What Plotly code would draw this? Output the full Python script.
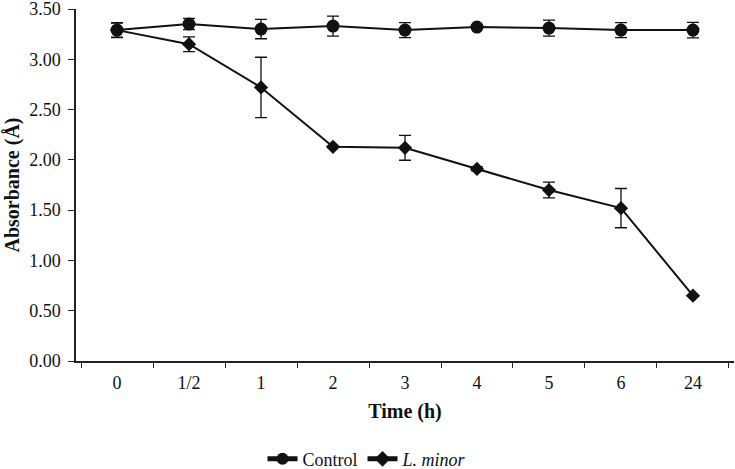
import plotly.graph_objects as go

times = ["0", "1/2", "1", "2", "3", "4", "5", "6", "24"]
control = [3.29, 3.35, 3.30, 3.33, 3.29, 3.32, 3.31, 3.29, 3.29]
control_err = [0.074, 0.056, 0.096, 0.10, 0.074, 0.02, 0.08, 0.074, 0.077]
lminor = [3.29, 3.15, 2.72, 2.13, 2.12, 1.91, 1.70, 1.52, 0.65]
lminor_err = [0.07, 0.073, 0.30, 0.0, 0.124, 0.02, 0.078, 0.195, 0.0]

font = "Liberation Serif"
ink = "#111111"
fig = go.Figure()
fig.add_trace(go.Scatter(
    x=times, y=control, name="Control", mode="lines+markers",
    line=dict(color=ink, width=2),
    marker=dict(symbol="circle", size=13, color=ink),
    error_y=dict(type="data", array=control_err, color=ink, thickness=1.3, width=6),
))
fig.add_trace(go.Scatter(
    x=times, y=lminor, name="<i>L. minor</i>", mode="lines+markers",
    line=dict(color=ink, width=2),
    marker=dict(symbol="diamond", size=11, color=ink),
    error_y=dict(type="data", array=lminor_err, color=ink, thickness=1.3, width=6),
))
fig.update_layout(
    width=735, height=469,
    margin=dict(l=76, r=1, t=9, b=108),
    paper_bgcolor="white", plot_bgcolor="white",
    font=dict(family=font, size=18, color=ink),
    showlegend=True,
    legend=dict(orientation="h", x=0.5, xanchor="center", xref="container",
                y=0.021, yanchor="middle", yref="container",
                font=dict(family=font, size=18), itemsizing="constant"),
    xaxis=dict(
        type="category", automargin=False,
        title=dict(text="<b>Time (h)</b>", font=dict(size=20), standoff=12),
        showline=True, linecolor="#222222", linewidth=1.5,
        ticks="outside", tickson="boundaries", ticklen=5, tickcolor="#222222",
        ticklabelstandoff=5,
        showgrid=False, zeroline=False,
    ),
    yaxis=dict(
        range=[0, 3.5], dtick=0.5, tickformat=".2f", automargin=False,
        ticklabeloverflow="allow",
        title=dict(text="<b>Absorbance (Å)</b>", font=dict(size=20), standoff=4),
        showline=True, linecolor="#222222", linewidth=1.5,
        ticks="outside", ticklen=6, tickcolor="#222222",
        ticklabelstandoff=4,
        showgrid=False, zeroline=False,
    ),
)
fig.write_html("out.html", config={"displayModeBar": False},
               post_script="document.body.style.margin='0';")
